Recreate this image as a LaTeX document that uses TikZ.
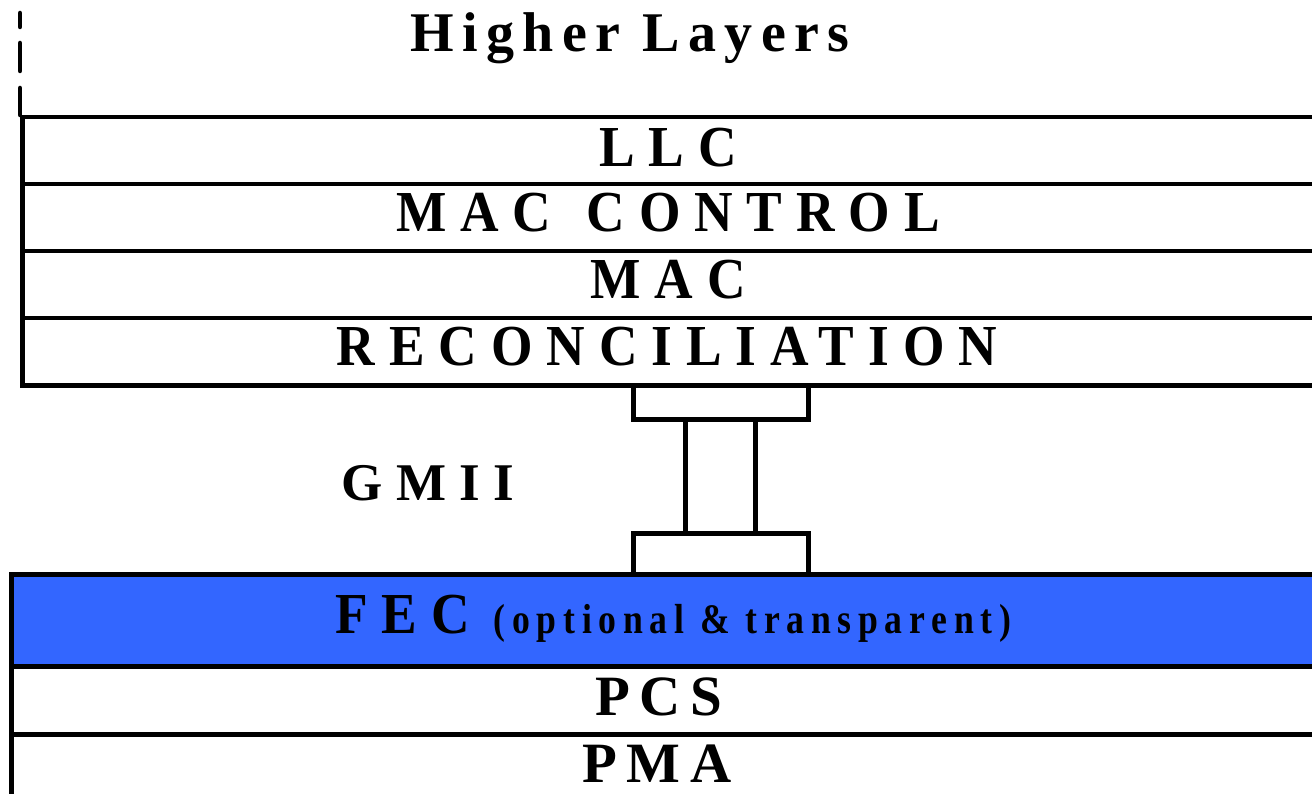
\documentclass[tikz,border=0pt]{standalone}
\usepackage{fontspec}
\setmainfont{Liberation Serif}
\newfontfamily\layerfont{Liberation Serif}[FakeStretch=0.92,LetterSpace=24]
\newfontfamily\lowfont{Liberation Serif}[LetterSpace=17]
\newfontfamily\widefont{Liberation Serif}[LetterSpace=15]
\newfontfamily\gmiifont{Liberation Serif}[LetterSpace=25]
\newfontfamily\smallfont{Liberation Serif}[FakeStretch=0.85,LetterSpace=16]
\definecolor{fecblue}{HTML}{3366FF}
\begin{document}
\begin{tikzpicture}[x=1pt,y=-1pt,line width=4.5pt,
  layer/.style={draw=black,line width=4.5pt,rectangle,anchor=north west,inner sep=0pt,minimum width=1310pt,minimum height=#1},
  plug/.style={draw=black,line width=4.5pt,fill=white,rectangle,anchor=north west,inner sep=0pt},
  captext/.style={anchor=base,inner sep=0pt,font=\layerfont\bfseries\fontsize{58}{60}\selectfont},
  lowtext/.style={anchor=base,inner sep=0pt,font=\lowfont\bfseries\fontsize{57}{60}\selectfont}]
\useasboundingbox (0,0) rectangle (1312,794);
% upper stack
\node[layer=67pt] (llc) at (20,115) {};
\node[layer=67pt] (macctl) at (20,182) {};
\node[layer=67pt] (mac) at (20,249) {};
\node[layer=67pt] (rec) at (20,316) {};
\coordinate (vtop) at (20,88);
\coordinate (d1a) at (20,13);
\coordinate (d1b) at (20,27);
\coordinate (d2a) at (20,43);
\coordinate (d2b) at (20,71);
\draw[line cap=round] (d1a) -- (d1b);
\draw[line cap=round] (d2a) -- (d2b);
\draw[line cap=round] (vtop) -- (llc.north west);
% lower stack
\node[layer=92pt,fill=fecblue,minimum width=1321pt] (fec) at (9,572) {};
\node[layer=68pt,minimum width=1321pt] (pcs) at (9,664) {};
\node[layer=80pt,minimum width=1321pt] (pma) at (9,732) {};
% GMII connector
\node[plug,minimum width=175pt,minimum height=34pt] (ptop) at (631,383) {};
\node[plug,minimum width=70pt,minimum height=114pt] (pmid) at (683,417) {};
\node[plug,minimum width=175pt,minimum height=41pt] (pbot) at (631,531) {};
% labels
\node[anchor=base,inner sep=0pt,font=\widefont\bfseries\fontsize{56}{60}\selectfont] (hl) at (630,52) {Higher Layers};
\node[captext] (tllc) at (668,167) {LLC};
\node[captext] (tmacctl) at (668,232) {MAC\hspace{8pt} CONTROL};
\node[captext] (tmac) at (668,299) {MAC};
\node[captext] (trec) at (667,366) {RECONCILIATION};
\node[anchor=base,inner sep=0pt,font=\gmiifont\bfseries\fontsize{53}{58}\selectfont] (tgmii) at (428,500) {GMII};
\node[anchor=base west,inner sep=0pt] (tfec) at (333,633) {{\layerfont\bfseries\fontsize{58}{60}\selectfont FEC}\hspace{24pt}{\smallfont\bfseries\fontsize{42}{44}\selectfont (optional \& transparent)}};
\node[lowtext] (tpcs) at (659,715) {PCS};
\node[lowtext] (tpma) at (657,782) {PMA};
\end{tikzpicture}
\end{document}
